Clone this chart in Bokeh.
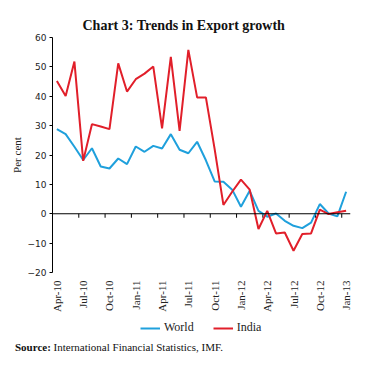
from math import pi
from bokeh.plotting import figure
from bokeh.layouts import column
from bokeh.models import (Range1d, FixedTicker, Legend, LegendItem, Span, Div)
from bokeh.embed import file_html
from bokeh.resources import INLINE

# Monthly export growth (per cent), Apr-10 .. Jan-13
world = [28.8, 27.1, 22.8, 18.3, 22.3, 16.1, 15.4, 18.8, 16.9, 22.9, 21.1, 23.1,
         22.2, 27.1, 21.8, 20.6, 24.5, 18.2, 11.0, 10.9, 8.2, 2.4, 7.8, 1.0,
         -1.0, 0.1, -2.4, -4.1, -4.9, -3.0, 3.3, 0.1, -0.9, 7.5]
india = [45.2, 40.1, 51.8, 18.0, 30.5, 29.7, 28.8, 51.2, 41.6, 45.8, 47.7, 50.1,
         29.1, 53.4, 28.2, 55.8, 39.6, 39.6, 22.0, 3.0, 7.5, 11.6, 8.2, -5.2,
         1.0, -6.7, -6.4, -12.6, -6.9, -6.7, 1.4, -0.1, 0.5, 1.0]
tick_labels = ["Apr-10", "Jul-10", "Oct-10", "Jan-11", "Apr-11", "Jul-11",
               "Oct-11", "Jan-12", "Apr-12", "Jul-12", "Oct-12", "Jan-13"]
y_ticks = [-20, -10, 0, 10, 20, 30, 40, 50, 60]
series_names = ["World", "India"]
series_colors = ["#1FA0DC", "#E11F2A"]
title_text = "Chart 3: Trends in Export growth"
source_bold = "Source:"
source_text = "International Financial Statistics, IMF."

n = len(world)
x = list(range(n))
step = 3
label_pos = list(range(0, n, step))
boundary_ticks = [i - 0.5 for i in range(step, n, step)]

SERIF = "Liberation Serif"
W = 352
LEFT, RIGHT = 52, 2

# ---------------- main chart ----------------
p = figure(width=W, height=315, output_backend="svg", toolbar_location=None,
           x_range=Range1d(-0.5, n - 0.5), y_range=Range1d(y_ticks[0], y_ticks[-1]),
           min_border_left=LEFT, min_border_right=RIGHT, min_border_top=37,
           min_border_bottom=43)
p.outline_line_color = None
p.xgrid.visible = False
p.ygrid.visible = False
p.background_fill_color = "white"
p.border_fill_color = "white"

p.title.text = title_text
p.title.align = "left"
p.title.offset = 30
p.title.text_font = SERIF
p.title.text_font_style = "bold"
p.title.text_font_size = "14px"
p.title.text_color = "#111111"

# y axis
yax = p.yaxis[0]
yax.ticker = FixedTicker(ticks=y_ticks)
yax.minor_tick_line_color = None
yax.major_tick_out = 3
yax.major_tick_in = 0
yax.major_label_text_font = "DejaVu Sans"
yax.major_label_text_font_size = "9px"
yax.major_label_text_color = "#222222"
yax.major_label_standoff = 3
yax.axis_line_color = "black"
yax.major_tick_line_color = "black"
yax.axis_label = "Per cent"
yax.axis_label_text_font = SERIF
yax.axis_label_text_font_style = "normal"
yax.axis_label_text_font_size = "11px"
yax.axis_label_text_color = "#222222"
yax.axis_label_standoff = 2

# bottom category labels
xax = p.xaxis[0]
xax.ticker = FixedTicker(ticks=label_pos)
xax.major_label_overrides = {pos: lab for pos, lab in zip(label_pos, tick_labels)}
xax.major_label_orientation = pi / 2
xax.major_tick_out = 0
xax.major_tick_in = 0
xax.minor_tick_line_color = None
xax.axis_line_color = None
xax.major_label_standoff = 8
xax.major_label_text_font = SERIF
xax.major_label_text_font_size = "11px"
xax.major_label_text_color = "#222222"

# zero line with boundary tick marks
p.add_layout(Span(location=0, dimension="width", line_color="black", line_width=1))
tick_len = 1.36  # ~4px in data units
p.segment(x0=boundary_ticks, y0=[0] * len(boundary_ticks),
          x1=boundary_ticks, y1=[-tick_len] * len(boundary_ticks),
          line_color="black", line_width=1)

p.line(x, world, line_color=series_colors[0], line_width=2)
p.line(x, india, line_color=series_colors[1], line_width=2)

# ---------------- legend strip ----------------
H2 = 20
fw = W - LEFT - RIGHT
f = figure(width=W, height=H2, output_backend="svg", toolbar_location=None,
           x_range=Range1d(0, fw), y_range=Range1d(0, H2),
           x_axis_location=None, y_axis_location=None,
           min_border_left=LEFT, min_border_right=RIGHT,
           min_border_top=0, min_border_bottom=0)
f.outline_line_color = None
f.xgrid.visible = False
f.ygrid.visible = False
f.background_fill_color = "white"
f.border_fill_color = "white"

# legend keys (drawn outside the visible ranges; only their legend glyphs show)
keys = [f.line([-20, -10], [-20, -20], line_color=c, line_width=2)
        for c in series_colors]
legend = Legend(items=[LegendItem(label=nm, renderers=[r])
                       for nm, r in zip(series_names, keys)],
                orientation="horizontal", location=(88, 0),
                label_text_font=SERIF, label_text_font_size="12px",
                label_text_color="#222222",
                glyph_width=20, glyph_height=12, label_height=12,
                label_standoff=4, spacing=19, padding=0, margin=0,
                border_line_color=None, background_fill_alpha=0)
f.add_layout(legend)

# ---------------- source line ----------------
src = Div(text=f"<b>{source_bold}</b> {source_text}", width=W, height=18,
          margin=0,
          styles={"font-family": SERIF, "font-size": "11px", "color": "#111111",
                  "line-height": "11px", "padding-left": "15px",
                  "padding-top": "7px", "box-sizing": "border-box",
                  "white-space": "nowrap", "overflow": "hidden"})

layout = column(p, f, src, spacing=0)
open("out.html", "w").write(file_html(layout, INLINE))
